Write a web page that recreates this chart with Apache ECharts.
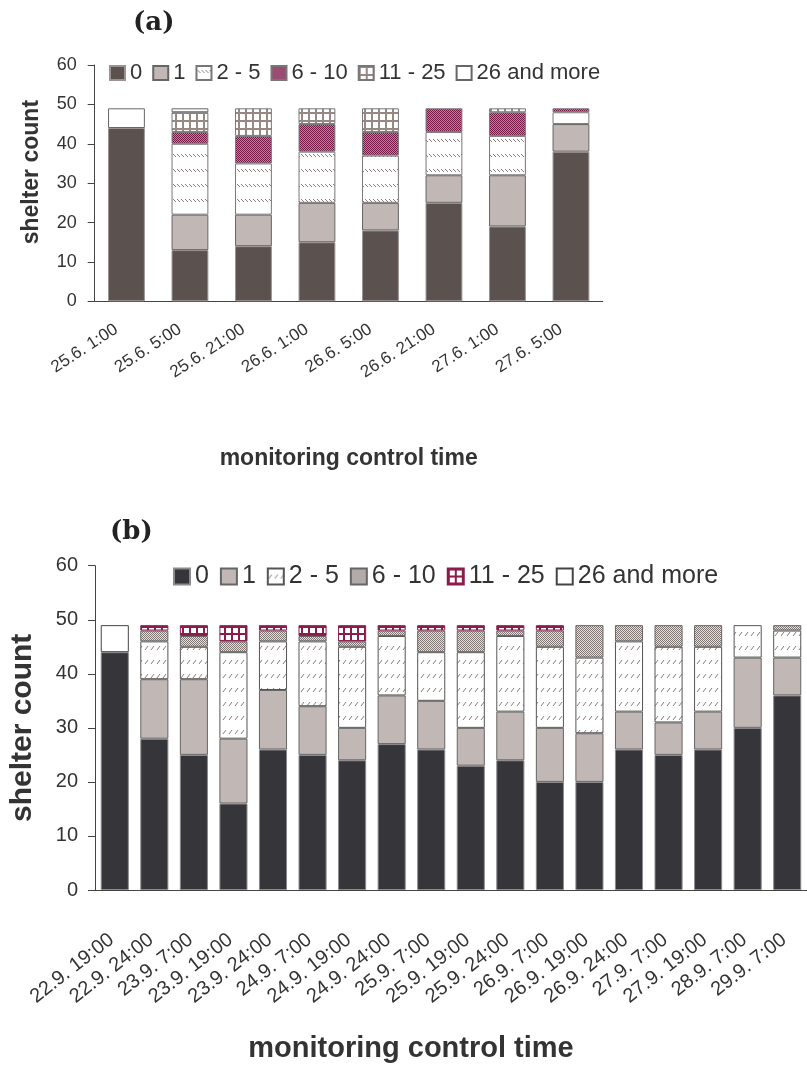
<!DOCTYPE html>
<html>
<head>
<meta charset="utf-8">
<title>shelter count</title>
<script src="https://cdn.jsdelivr.net/npm/echarts@6/dist/echarts.min.js"></script>
<style>
    html, body { margin: 0; padding: 0; background: #fff; }
    #chartA { position: absolute; left: 0; top: 0; width: 807px; height: 500px; }
    #chartB { position: absolute; left: 0; top: 500px; width: 807px; height: 568px; }
</style>
</head>
<body>
<div id="chartA"></div>
<div id="chartB"></div>
<script>
// legend / stack classes (shelter occupancy)
var classNames = ['0', '1', '2 - 5', '6 - 10', '11 - 25', '26 and more'];

// (a) June
var timesA = ['25.6. 1:00', '25.6. 5:00', '25.6. 21:00', '26.6. 1:00', '26.6. 5:00', '26.6. 21:00', '27.6. 1:00', '27.6. 5:00'];
var a0    = [44, 13, 14, 15, 18, 25, 19, 38];
var a1    = [0, 9, 8, 10, 7, 7, 13, 7];
var a2_5  = [0, 18, 13, 13, 12, 11, 10, 3];
var a6_10 = [0, 3, 7, 7, 6, 6, 6, 1];
var a11_25 = [0, 5, 7, 4, 6, 0, 1, 0];
var a26   = [5, 1, 0, 0, 0, 0, 0, 0];

// (b) September
var timesB = ['22.9. 19:00', '22.9. 24:00', '23.9. 7:00', '23.9. 19:00', '23.9. 24:00', '24.9. 7:00', '24.9. 19:00', '24.9. 24:00', '25.9. 7:00',
    '25.9. 19:00', '25.9. 24:00', '26.9. 7:00', '26.9. 19:00', '26.9. 24:00', '27.9. 7:00', '27.9. 19:00', '28.9. 7:00', '29.9. 7:00'];
var b0    = [44, 28, 25, 16, 26, 25, 24, 27, 26, 23, 24, 20, 20, 26, 25, 26, 30, 36];
var b1    = [0, 11, 14, 12, 11, 9, 6, 9, 9, 7, 9, 10, 9, 7, 6, 7, 13, 7];
var b2_5  = [0, 7, 6, 16, 9, 12, 15, 11, 9, 14, 14, 15, 14, 13, 14, 12, 6, 5];
var b6_10 = [0, 2, 2, 2, 2, 1, 1, 1, 4, 4, 1, 3, 6, 3, 4, 4, 0, 1];
var b11_25 = [0, 1, 2, 3, 1, 2, 3, 1, 1, 1, 1, 1, 0, 0, 0, 0, 0, 0];
var b26   = [5, 0, 0, 0, 0, 0, 0, 0, 0, 0, 0, 0, 0, 0, 0, 0, 0, 0];

var FONT = 'Liberation Sans, Arial, sans-serif';

// small canvas tiles used as fill patterns
function makePattern(w, h, draw) {
    var c = document.createElement('canvas');
    c.width = w;
    c.height = h;
    var ctx = c.getContext('2d');
    ctx.fillStyle = '#fff';
    ctx.fillRect(0, 0, w, h);
    draw(ctx);
    return {image: c, repeat: 'repeat'};
}
function checker(dark, light) {
    return makePattern(2, 2, function (ctx) {
        ctx.fillStyle = light;
        ctx.fillRect(0, 0, 2, 2);
        ctx.fillStyle = dark;
        ctx.fillRect(0, 0, 1, 1);
        ctx.fillRect(1, 1, 1, 1);
    });
}
function grid(w, h, color) {
    return makePattern(w, h, function (ctx) {
        ctx.fillStyle = color;
        ctx.fillRect(0, 0, w, 2);
        ctx.fillRect(0, 0, 2, h);
    });
}

var dashBack = makePattern(16, 15, function (ctx) {
    ctx.strokeStyle = '#8c7d78';
    ctx.lineWidth = 1;
    for (var x = 1; x < 16; x += 4) {
        ctx.beginPath();
        ctx.moveTo(x, 4);
        ctx.lineTo(x + 3, 7);
        ctx.stroke();
    }
});
var dashFwd = makePattern(6, 14, function (ctx) {
    ctx.strokeStyle = '#8c7d78';
    ctx.lineWidth = 1;
    ctx.beginPath();
    ctx.moveTo(1, 10);
    ctx.lineTo(4, 6);
    ctx.stroke();
});

var stylesA = [
    {color: '#5b524f', borderColor: '#9a9391', borderWidth: 1},
    {color: '#c1b7b4', borderColor: '#666', borderWidth: 1},
    {color: dashBack, borderColor: '#777', borderWidth: 1},
    {color: checker('#761846', '#c27f9f'), borderColor: '#777', borderWidth: 1},
    {color: grid(7, 8, '#978883'), borderColor: '#777', borderWidth: 1},
    {color: '#ffffff', borderColor: '#666', borderWidth: 1}
];
var stylesB = [
    {color: '#36353a', borderColor: '#8a8a8e', borderWidth: 1},
    {color: '#c1b7b4', borderColor: '#666', borderWidth: 1},
    {color: dashFwd, borderColor: '#555', borderWidth: 1},
    {color: checker('#7f7573', '#e6e2e1'), borderColor: '#666', borderWidth: 1},
    {color: grid(7, 7, '#8b1c4c'), borderColor: '#8b1c4c', borderWidth: 1},
    {color: '#ffffff', borderColor: '#444', borderWidth: 1}
];

// empty classes are left out so no zero-height outline is drawn
function buildSeries(values, styles, barWidth, stack) {
    return values.map(function (v, i) {
        return {
            name: classNames[i],
            type: 'bar',
            stack: stack,
            barWidth: barWidth,
            data: v.map(function (n) { return n === 0 ? '-' : n; }),
            itemStyle: styles[i]
        };
    });
}

var axisColor = '#444';

var chartA = echarts.init(document.getElementById('chartA'));
chartA.setOption({
    animation: false,
    textStyle: {fontFamily: FONT},
    title: {
        text: '(a)', left: 133, top: 10, padding: 0,
        textStyle: {fontFamily: 'DejaVu Serif', fontWeight: 'bold', fontSize: 26, color: '#222'}
    },
    legend: {
        left: 104, top: 57, icon: 'rect', itemWidth: 15, itemHeight: 14, itemGap: 10,
        textStyle: {fontSize: 22, color: '#333', fontFamily: FONT},
        data: classNames
    },
    grid: {left: 94.7, top: 65, width: 508, height: 236.3},
    xAxis: {
        type: 'category',
        data: timesA,
        axisLine: {lineStyle: {color: axisColor}},
        axisTick: {length: 6, lineStyle: {color: axisColor}},
        axisLabel: {rotate: 33, margin: 20, padding: [0, 12, 0, 0], fontSize: 17, color: '#333', interval: 0},
        name: 'monitoring control time',
        nameLocation: 'middle',
        nameGap: 146,
        nameTextStyle: {fontSize: 23, fontWeight: 'bold', color: '#333'}
    },
    yAxis: {
        type: 'value', min: 0, max: 60, interval: 10,
        splitLine: {show: false},
        axisLine: {show: true, lineStyle: {color: axisColor}},
        axisTick: {show: true, length: 7, lineStyle: {color: axisColor}},
        axisLabel: {fontSize: 18, margin: 18, color: '#333'},
        name: 'shelter count',
        nameLocation: 'middle',
        nameRotate: 90,
        nameGap: 52,
        nameTextStyle: {fontSize: 23, fontWeight: 'bold', color: '#333', padding: [0, 0, 0, 22]}
    },
    series: buildSeries([a0, a1, a2_5, a6_10, a11_25, a26], stylesA, '58%', 'june')
});

var chartB = echarts.init(document.getElementById('chartB'));
chartB.setOption({
    animation: false,
    textStyle: {fontFamily: FONT},
    title: {
        text: '(b)', left: 110, top: 19, padding: 0,
        textStyle: {fontFamily: 'DejaVu Serif', fontWeight: 'bold', fontSize: 26, color: '#222'}
    },
    legend: {
        left: 168, top: 59, icon: 'rect', itemWidth: 16, itemHeight: 16, itemGap: 11,
        textStyle: {fontSize: 25, color: '#333', fontFamily: FONT},
        data: classNames
    },
    grid: {left: 93.7, top: 65.7, width: 727, height: 325.3},
    xAxis: {
        type: 'category',
        data: timesB,
        axisLine: {lineStyle: {color: axisColor}},
        axisTick: {length: 7, lineStyle: {color: axisColor}},
        axisLabel: {rotate: 38, margin: 45, padding: [0, 4, 0, 0], fontSize: 20, color: '#333', interval: 0},
        name: 'monitoring control time',
        nameLocation: 'middle',
        nameGap: 144,
        nameTextStyle: {fontSize: 29, fontWeight: 'bold', color: '#333', padding: [0, 80, 0, 0]}
    },
    yAxis: {
        type: 'value', min: 0, max: 60, interval: 10,
        splitLine: {show: false},
        axisLine: {show: true, lineStyle: {color: axisColor}},
        axisTick: {show: true, length: 7, lineStyle: {color: axisColor}},
        axisLabel: {fontSize: 20, margin: 17, color: '#333'},
        name: 'shelter count',
        nameLocation: 'middle',
        nameRotate: 90,
        nameGap: 57,
        nameTextStyle: {fontSize: 30, fontWeight: 'bold', color: '#333'}
    },
    series: buildSeries([b0, b1, b2_5, b6_10, b11_25, b26], stylesB, '71%', 'september')
});
</script>
</body>
</html>
